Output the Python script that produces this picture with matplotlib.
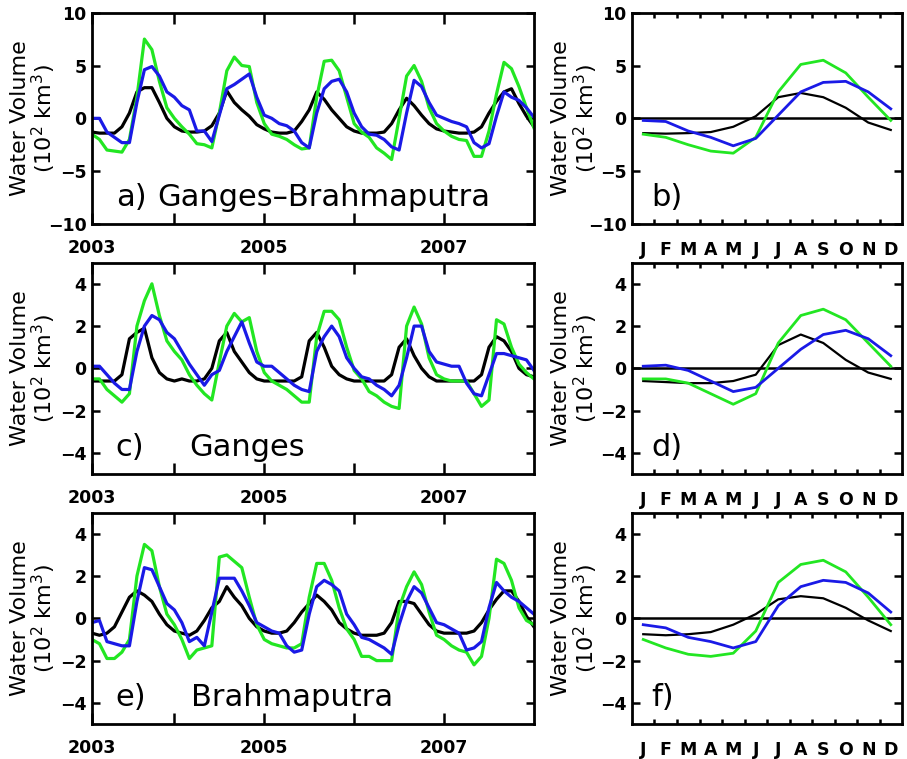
# water volume anomalies: monthly series (left) and mean seasonal cycle (right)
import matplotlib
matplotlib.use("Agg")
import matplotlib.pyplot as plt
import numpy as np

plt.rcParams['font.family'] = 'DejaVu Sans'

# x axis labels
year_ticks = [2003 + 1 / 12, 2004, 2005, 2006, 2007]
year_labels = ['2003', '', '2005', '', '2007']
month_labels = ['J', 'F', 'M', 'A', 'M', 'J', 'J', 'A', 'S', 'O', 'N', 'D']

# a) Ganges-Brahmaputra, Jan 2003 - Dec 2007
gb_black = [-1.3, -1.4, -1.4, -1.4, -0.8, 0.5, 2.5, 2.9, 2.9, 1.5, 0.0, -0.8,
            -1.2, -1.3, -1.3, -1.2, -0.7, 0.5, 2.6, 1.5, 0.8, 0.2, -0.6, -1.0,
            -1.3, -1.4, -1.4, -1.2, -0.3, 0.8, 2.5, 1.8, 0.8, 0.0, -0.8, -1.2,
            -1.4, -1.4, -1.4, -1.3, -0.5, 0.8, 1.9, 1.2, 0.3, -0.5, -1.0, -1.2,
            -1.3, -1.4, -1.4, -1.3, -0.8, 0.5, 1.6, 2.5, 2.8, 1.4, 0.2, -0.8]
gb_green = [-1.5, -2.0, -3.0, -3.1, -3.2, -2.0, 2.0, 7.5, 6.5, 3.5, 1.0, 0.0,
            -0.8, -1.5, -2.4, -2.5, -2.8, 0.5, 4.5, 5.8, 5.0, 4.9, 1.5, -0.5,
            -1.5, -1.7, -2.0, -2.5, -2.9, -2.8, 2.0, 5.4, 5.5, 4.5, 2.0, -0.5,
            -1.3, -1.8, -2.8, -3.3, -3.9, 0.0, 4.0, 5.0, 3.5, 1.0, -0.5, -1.2,
            -1.7, -2.0, -2.1, -3.6, -3.6, -1.2, 2.3, 5.3, 4.7, 3.0, 1.0, -0.9]
gb_blue = [0.0, 0.0, -1.3, -1.8, -2.3, -2.3, 1.5, 4.6, 4.9, 4.0, 2.5, 2.0,
           1.2, 0.8, -1.2, -1.2, -2.2, 0.3, 2.8, 3.2, 3.7, 4.2, 2.0, 0.3,
           0.0, -0.5, -0.7, -1.2, -2.3, -2.8, 0.5, 2.8, 3.5, 3.7, 2.5, 0.5,
           -0.8, -1.5, -1.6, -2.0, -2.7, -3.0, 0.5, 3.6, 3.0, 1.5, 0.3, 0.0,
           -0.3, -0.5, -0.8, -2.3, -2.8, -2.4, 0.2, 2.5, 2.0, 1.7, 1.0, 0.1]

# c) Ganges
g_black = [-0.6, -0.6, -0.6, -0.6, -0.3, 1.4, 1.7, 1.9, 0.5, -0.2, -0.5, -0.6,
           -0.5, -0.6, -0.6, -0.5, 0.0, 1.3, 1.7, 0.8, 0.3, -0.2, -0.5, -0.6,
           -0.6, -0.6, -0.6, -0.6, -0.4, 1.3, 1.7, 1.0, 0.1, -0.3, -0.5, -0.6,
           -0.6, -0.6, -0.6, -0.6, -0.3, 1.0, 1.4, 0.6, 0.0, -0.4, -0.6, -0.6,
           -0.6, -0.6, -0.6, -0.6, -0.3, 1.0, 1.5, 1.3, 0.8, 0.0, -0.3, -0.4]
g_green = [-0.5, -0.5, -1.0, -1.3, -1.6, -1.2, 2.0, 3.2, 4.0, 2.5, 1.3, 0.8,
           0.4, -0.3, -0.8, -1.2, -1.5, 0.3, 2.0, 2.6, 2.2, 2.4, 0.8, -0.2,
           -0.6, -0.8, -1.0, -1.3, -1.6, -1.6, 1.5, 2.7, 2.7, 2.3, 1.0, -0.1,
           -0.5, -1.1, -1.3, -1.6, -1.8, -1.9, 2.0, 2.9, 2.1, 0.5, -0.3, -0.5,
           -0.6, -0.6, -0.6, -1.2, -1.8, -1.5, 2.3, 2.1, 1.0, 0.2, -0.2, -0.5]
g_blue = [0.1, 0.1, -0.3, -0.7, -1.0, -1.0, 0.8, 2.0, 2.5, 2.3, 1.7, 1.4,
          0.8, 0.2, -0.3, -0.8, -0.3, -0.1, 0.8, 1.5, 2.2, 1.2, 0.3, 0.1,
          0.1, -0.2, -0.5, -0.8, -1.0, -1.1, 0.8, 1.5, 2.0, 1.5, 0.5, 0.0,
          -0.4, -0.5, -0.8, -1.0, -1.3, -0.8, 0.5, 2.0, 2.0, 0.8, 0.3, 0.2,
          0.1, 0.1, -0.7, -1.2, -1.3, -0.3, 0.7, 0.7, 0.6, 0.5, 0.4, -0.1]

# e) Brahmaputra
b_black = [-0.7, -0.8, -0.7, -0.4, 0.3, 1.0, 1.3, 1.1, 0.8, 0.2, -0.3, -0.6,
           -0.7, -0.8, -0.6, -0.1, 0.5, 0.8, 1.5, 1.0, 0.6, 0.0, -0.4, -0.6,
           -0.7, -0.7, -0.6, -0.2, 0.3, 0.7, 1.1, 0.8, 0.4, -0.2, -0.5, -0.7,
           -0.8, -0.8, -0.8, -0.7, -0.2, 0.8, 0.8, 0.7, 0.2, -0.3, -0.6, -0.7,
           -0.7, -0.7, -0.7, -0.6, -0.2, 0.4, 0.9, 1.3, 1.3, 0.8, 0.1, -0.4]
b_green = [-1.0, -1.2, -1.9, -1.9, -1.6, -1.0, 2.0, 3.5, 3.2, 1.5, 0.2, -0.3,
           -1.0, -1.9, -1.5, -1.4, -1.3, 2.9, 3.0, 2.7, 2.4, 1.0, -0.3, -1.0,
           -1.2, -1.3, -1.4, -1.4, -1.2, 1.0, 2.6, 2.6, 1.8, 0.5, -0.5, -1.0,
           -1.8, -1.8, -2.0, -2.0, -2.0, 0.5, 1.5, 2.2, 1.6, 0.3, -0.8, -1.0,
           -1.3, -1.5, -1.6, -2.2, -1.8, 0.0, 2.8, 2.6, 1.8, 0.5, -0.1, -0.3]
b_blue = [-0.2, -0.1, -1.1, -1.2, -1.3, -1.3, 0.8, 2.4, 2.3, 1.5, 0.7, 0.4,
          -0.2, -1.1, -0.9, -1.3, 0.3, 1.9, 1.9, 1.9, 1.3, 0.6, -0.2, -0.4,
          -0.6, -0.7, -1.3, -1.6, -1.5, 0.2, 1.5, 1.8, 1.6, 1.3, 0.2, -0.3,
          -0.9, -1.0, -1.2, -1.4, -1.7, -0.3, 0.8, 1.5, 1.2, 0.5, -0.2, -0.3,
          -0.5, -0.7, -1.5, -1.4, -1.1, 0.5, 1.7, 1.3, 1.0, 0.8, 0.5, 0.2]

# b), d), f) mean seasonal cycle
gb_clim_black = [-1.4, -1.45, -1.4, -1.3, -0.8, 0.2, 2.0, 2.4, 2.0, 1.0, -0.4, -1.1]
gb_clim_green = [-1.5, -1.8, -2.5, -3.1, -3.3, -1.8, 2.5, 5.1, 5.5, 4.3, 2.0, -0.2]
gb_clim_blue = [-0.2, -0.3, -1.2, -1.8, -2.6, -1.9, 0.3, 2.5, 3.4, 3.5, 2.5, 0.9]
g_clim_black = [-0.6, -0.65, -0.7, -0.7, -0.6, -0.3, 1.1, 1.6, 1.2, 0.4, -0.2, -0.5]
g_clim_green = [-0.5, -0.5, -0.7, -1.2, -1.7, -1.2, 1.2, 2.5, 2.8, 2.3, 1.2, 0.1]
g_clim_blue = [0.1, 0.15, -0.1, -0.6, -1.1, -0.9, 0.0, 0.9, 1.6, 1.8, 1.4, 0.6]
b_clim_black = [-0.75, -0.8, -0.75, -0.65, -0.3, 0.2, 0.9, 1.05, 0.95, 0.5, -0.1, -0.6]
b_clim_green = [-1.0, -1.4, -1.7, -1.8, -1.65, -0.6, 1.7, 2.55, 2.75, 2.2, 1.0, -0.3]
b_clim_blue = [-0.3, -0.45, -0.9, -1.1, -1.4, -1.1, 0.6, 1.5, 1.8, 1.7, 1.2, 0.3]

GREEN = '#22e622'
BLUE = '#1a1ae6'
ylab = 'Water Volume\n(10$^2$ km$^3$)'

t = 2003 + (np.arange(60) + 1) / 12.0
mon = np.arange(1, 13)

fig = plt.figure(figsize=(9.07, 7.59), dpi=100)

rows = [
    ('a)', 'b)', 'Ganges\u2013Brahmaputra', 0.147, (-10, 10), [-10, -5, 0, 5, 10],
     gb_black, gb_green, gb_blue, gb_clim_black, gb_clim_green, gb_clim_blue),
    ('c)', 'd)', 'Ganges', 0.22, (-5, 5), [-4, -2, 0, 2, 4],
     g_black, g_green, g_blue, g_clim_black, g_clim_green, g_clim_blue),
    ('e)', 'f)', 'Brahmaputra', 0.224, (-5, 5), [-4, -2, 0, 2, 4],
     b_black, b_green, b_blue, b_clim_black, b_clim_green, b_clim_blue),
]
bottoms = [0.7049, 0.3755, 0.0461]
h = 0.2784


def frame(ax):
    for s in ax.spines.values():
        s.set_linewidth(2.0)
    ax.tick_params(axis='both', which='both', direction='in', top=True, right=True,
                   width=1.8, labelsize=12.5)
    for lab in ax.get_xticklabels() + ax.get_yticklabels():
        lab.set_fontweight('bold')


for (la, lb, name, namex, ylim, yticks, k, g, b, ck, cg, cb), y0 in zip(rows, bottoms):
    # monthly series
    ax = fig.add_axes([0.1014, y0, 0.4873, h])
    ax.plot(t, k, color='black', lw=2.3)
    ax.plot(t, g, color=GREEN, lw=2.3)
    ax.plot(t, b, color=BLUE, lw=2.3)
    ax.set_xlim(2003 + 1 / 12, 2008)
    ax.set_ylim(*ylim)
    ax.set_xticks(year_ticks)
    ax.set_xticklabels(year_labels)
    ax.set_yticks(yticks)
    frame(ax)
    ax.tick_params(axis='x', length=8, pad=11)
    ax.tick_params(axis='y', length=6, pad=4)
    ax.set_ylabel(ylab, fontsize=16, linespacing=1.0)
    ax.yaxis.set_label_coords(-0.077, 0.5)
    ax.text(0.054, 0.125, la, transform=ax.transAxes, fontsize=22, va='center')
    ax.text(namex, 0.125, name, transform=ax.transAxes, fontsize=22, va='center')

    # seasonal cycle
    ax2 = fig.add_axes([0.6968, y0, 0.2977, h])
    ax2.axhline(0, color='black', lw=1.8)
    ax2.plot(mon, ck, color='black', lw=1.6)
    ax2.plot(mon, cg, color=GREEN, lw=2.0)
    ax2.plot(mon, cb, color=BLUE, lw=2.0)
    ax2.set_xlim(0.5, 12.5)
    ax2.set_ylim(*ylim)
    ax2.set_xticks(mon)
    ax2.set_xticklabels(month_labels)
    ax2.set_xticks(mon[:-1] + 0.5, minor=True)
    ax2.set_yticks(yticks)
    frame(ax2)
    ax2.tick_params(axis='x', which='major', length=0, pad=12)
    ax2.tick_params(axis='x', which='minor', length=3.5)
    ax2.tick_params(axis='y', length=6, pad=4)
    ax2.set_ylabel(ylab, fontsize=16, linespacing=1.0)
    ax2.yaxis.set_label_coords(-0.12, 0.5)
    ax2.text(0.073, 0.125, lb, transform=ax2.transAxes, fontsize=22, va='center')

fig.savefig('out.png', dpi=100)
